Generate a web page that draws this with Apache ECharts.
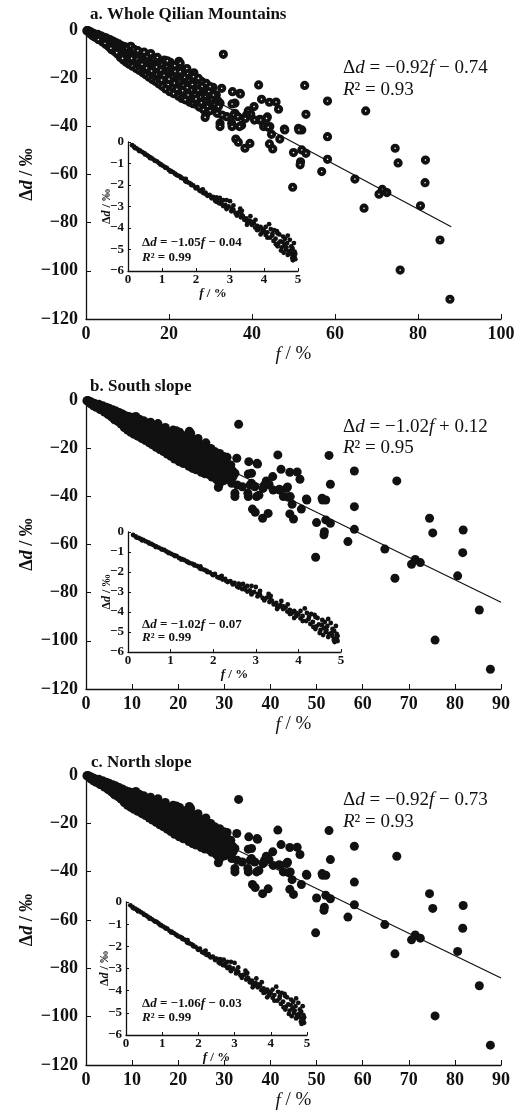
<!DOCTYPE html>
<html>
<head>
<meta charset="utf-8">
<script src="https://cdn.jsdelivr.net/npm/echarts@6/dist/echarts.min.js"></script>
<style>
html,body{margin:0;padding:0;background:#fff;}
#chart{width:521px;height:1113px;}
</style>
</head>
<body>
<div id="chart"></div>
<script>
// ---- data: [f (%), Δd (‰)] ----
const clusterPoints = [
[0.2,-0.3],[0.4,-0.2],[0.5,-0.6],[0.7,-0.5],[0.9,-1.0],[1.1,-0.8],[1.3,-1.4],[1.5,-1.2],[1.7,-1.8],[1.9,-1.5],
[2.1,-2.2],[2.3,-1.9],[2.5,-2.6],[2.7,-2.3],[2.9,-3.0],[3.1,-2.6],[3.3,-3.4],[3.5,-3.0],[3.7,-3.8],[3.9,-3.3],
[4.1,-4.2],[4.3,-3.6],[4.5,-4.7],[4.7,-4.0],[4.9,-5.1],[5.2,-4.3],[5.4,-5.8],[5.6,-4.9],[5.9,-6.4],[6.1,-5.2],
[6.3,-7.0],[6.6,-5.6],[6.8,-7.5],[7.0,-6.1],[7.3,-8.2],[7.5,-6.4],[7.7,-8.8],[8.0,-6.9],[8.2,-9.3],[8.4,-7.8],
[8.7,-10.1],[8.9,-7.4],[9.1,-10.6],[9.4,-8.3],[9.6,-11.2],[9.8,-9.0],[10.0,-12.0],[10.2,-7.2],[10.3,-9.8],[10.5,-11.5],
[10.7,-13.0],[10.9,-8.6],[11.1,-10.4],[11.3,-12.6],[11.5,-14.2],[11.8,-9.5],[12.0,-11.6],[12.2,-13.5],[12.4,-15.0],[12.6,-10.0],
[12.8,-12.3],[13.0,-14.4],[13.2,-9.6],[13.4,-16.0],[13.6,-11.8],[13.9,-13.7],[14.1,-15.5],[14.3,-10.8],[14.5,-17.0],[14.7,-12.5],
[14.9,-14.6],[15.1,-16.5],[15.3,-11.2],[15.5,-18.0],[15.7,-13.3],[15.9,-15.2],[16.1,-17.3],[16.3,-12.0],[16.5,-19.2],[16.7,-14.1],
[16.9,-16.0],[17.1,-18.4],[17.3,-13.0],[17.5,-20.3],[17.7,-15.0],[17.9,-17.1],[18.1,-19.5],[18.3,-14.2],[18.5,-21.4],[18.7,-16.0],
[18.9,-12.5],[19.1,-18.2],[19.3,-22.4],[19.5,-15.4],[19.7,-20.1],[19.9,-17.0],[20.1,-23.0],[20.3,-13.4],[20.4,-18.6],[20.6,-21.2],
[20.8,-16.5],[21.0,-24.0],[21.2,-19.8],[21.4,-14.8],[21.6,-22.3],[21.8,-17.6],[22.0,-25.1],[22.2,-20.5],[22.4,-13.0],[22.6,-23.3],
[22.8,-18.2],[23.0,-26.0],[23.2,-21.4],[23.4,-16.5],[23.6,-24.2],[23.8,-19.6],[24.0,-27.2],[24.2,-22.2],[24.5,-18.0],[24.7,-25.3],
[24.9,-20.8],[25.1,-28.0],[25.3,-23.1],[25.5,-19.3],[25.7,-26.2],[25.9,-21.5],[26.2,-29.0],[26.4,-24.3],[26.6,-20.0],[26.9,-27.3],
[27.1,-22.6],[27.4,-30.0],[27.6,-25.1],[27.9,-21.4],[28.1,-28.0],[28.4,-23.5],[28.7,-31.0],[28.9,-26.2],[29.2,-24.0],[29.5,-29.2],
[29.8,-27.0],[30.1,-32.0],[30.4,-25.5],[30.7,-29.5]
];
const clusterPoints2 = [
[1.0,-1.6],[1.6,-2.4],[2.2,-3.0],[2.8,-1.8],[3.2,-4.0],[3.6,-2.4],[4.0,-5.0],[4.4,-3.0],[4.8,-6.0],[5.0,-3.4],
[5.5,-7.0],[5.8,-4.0],[6.2,-8.2],[6.5,-4.6],[6.9,-8.9],[7.2,-5.2],[7.6,-10.0],[7.9,-5.8],[8.3,-11.4],[8.6,-6.5],
[9.0,-12.5],[9.3,-6.9],[9.7,-13.4],[9.9,-7.6],[3.0,-3.9],[4.6,-5.5],[6.0,-7.6],[7.4,-9.4],[8.8,-11.8],
[10.4,-14.2],[10.8,-6.8],[11.2,-15.0],[11.6,-8.0],[12.1,-16.0],[12.5,-8.6],[12.9,-16.8],[13.3,-12.8],[13.7,-17.8],[14.0,-9.2],
[14.4,-18.6],[14.8,-11.0],[15.2,-19.6],[15.6,-9.8],[16.0,-20.6],[16.4,-14.8],[16.8,-21.4],[17.2,-11.4],[17.6,-22.4],[18.0,-16.6],
[18.4,-23.4],[18.8,-18.8],[19.2,-24.5],[19.6,-12.8],[19.8,-22.6],[11.0,-11.8],[12.3,-12.0],[13.5,-14.2],[14.6,-15.8],[15.8,-17.0],
[17.0,-15.4],[18.2,-20.8],
[20.2,-25.6],[20.7,-19.4],[21.1,-26.4],[21.5,-17.2],[21.9,-24.6],[22.3,-27.5],[22.7,-15.4],[23.1,-28.4],[23.5,-23.0],[23.9,-29.0],
[24.3,-16.0],[24.6,-27.0],[25.0,-30.0],[25.4,-24.8],[25.8,-30.6],[26.0,-17.8],[26.3,-26.8],[26.7,-31.0],[27.0,-25.0],[27.3,-32.0],
[27.7,-27.8],[28.0,-23.4],[28.3,-33.0],[28.6,-29.4],[29.0,-22.2],[29.3,-31.8],[29.6,-25.5],[29.9,-33.5],[30.3,-28.6],[30.6,-23.8],
[31.0,-30.8],[31.4,-27.0],[31.8,-29.5],[20.0,-20.4],[21.3,-22.0],[22.5,-21.4],[23.3,-25.2],[24.4,-24.0],[25.6,-22.6],[26.5,-28.6],
[27.8,-30.2],[28.8,-27.4]
];
const scatterPoints = [
[33.1,-10.1],[41.6,-22.8],[52.7,-23.0],[58.2,-29.5],[67.4,-33.6],[53.0,-35.0],[42.3,-28.8],[44.2,-30.0],[45.8,-29.9],[46.4,-32.9],
[40.5,-31.8],[39.1,-33.6],[39.7,-35.0],[41.9,-37.1],[43.7,-36.1],[44.3,-40.1],[44.7,-43.3],[47.8,-41.1],[46.7,-45.3],[51.2,-40.8],
[52.0,-41.5],[58.2,-44.3],[44.2,-47.3],[45.0,-49.4],[50.0,-50.9],[52.0,-49.8],[53.0,-51.2],[51.7,-54.7],[58.2,-53.7],[56.8,-58.8],
[49.8,-65.3],[64.8,-61.9],[67.0,-74.0],[70.6,-68.2],[71.4,-66.2],[72.5,-67.5],[74.5,-49.1],[75.2,-55.2],[81.8,-54.0],[81.7,-63.4],
[80.6,-73.0],[85.3,-87.2],[75.7,-99.7],[87.7,-111.8],[36.1,-45.3],[36.7,-46.6],[38.3,-49.1],[39.5,-47.1],[28.9,-35.0],[32.7,-24.2],
[35.3,-25.6],[37.1,-26.3],[32.3,-30.4],[35.9,-30.4],[31.5,-33.6],[35.9,-34.6],[32.3,-38.7],[35.1,-38.7],[37.5,-39.5],[38.7,-35.3],
[33.9,-36.0],[30.7,-27.0],[29.9,-23.5],[25.9,-19.4],[27.1,-20.1],[22.7,-13.8],[22.7,-17.3],[31.9,-31.8],[31.6,-34.6],[32.8,-35.3],
[35.6,-35.3],[36.6,-36.0],[32.3,-40.1],[35.2,-40.1],[37.0,-40.1],[38.4,-36.7],[40.6,-37.4],[42.1,-37.4],[43.5,-36.7],[42.8,-40.1],
[43.9,-40.4],[47.9,-41.5],[51.3,-41.5],[51.6,-56.0],[37.2,-26.6],[35.2,-30.7],[28.7,-36.3]
];
const insetPoints = [
[0.12,-0.15],[0.18,-0.22],[0.25,-0.3],[0.3,-0.35],[0.36,-0.4],[0.42,-0.47],[0.48,-0.52],[0.55,-0.6],[0.6,-0.66],[0.66,-0.72],
[0.72,-0.78],[0.78,-0.85],[0.85,-0.9],[0.9,-0.97],[0.96,-1.03],[1.02,-1.1],[1.08,-1.16],[1.14,-1.2],[1.2,-1.3],[1.26,-1.34],
[1.32,-1.4],[1.38,-1.47],[1.44,-1.55],[1.5,-1.58],[1.56,-1.67],[1.62,-1.7],[1.68,-1.8],[1.74,-1.86],[1.8,-1.9],[1.86,-2.0],
[1.92,-2.02],[1.98,-2.12],[2.04,-2.1],[2.1,-2.26],[2.16,-2.24],[2.22,-2.38],[2.28,-2.35],[2.34,-2.5],[2.4,-2.46],[2.46,-2.62],
[2.5,-2.55],[2.56,-2.73],[2.62,-2.7],[2.68,-2.85],[2.74,-2.78],[2.8,-2.98],[2.86,-2.92],[2.9,-3.08],[2.96,-3.0],[3.0,-2.75],
[3.04,-3.22],[3.1,-3.15],[3.16,-3.3],[3.2,-3.36],[3.26,-3.28],[3.32,-3.5],[3.38,-3.45],[3.42,-3.62],[3.48,-3.55],[3.54,-3.75],
[3.58,-3.66],[3.64,-3.85],[3.7,-3.78],[3.74,-3.98],[3.8,-3.9],[3.84,-4.08],[3.9,-3.95],[3.95,-4.2],[4.0,-4.12],[4.05,-4.32],
[4.1,-4.2],[4.15,-3.82],[4.18,-4.45],[4.24,-4.35],[4.28,-4.6],[4.34,-4.5],[4.38,-4.15],[4.42,-4.72],[4.48,-4.62],[4.52,-4.9],
[4.56,-4.4],[4.6,-4.8],[4.64,-5.0],[4.68,-4.7],[4.72,-5.1],[4.76,-4.55],[4.8,-5.2],[4.84,-4.95],[4.87,-5.35],[4.9,-5.1],
[4.92,-5.45],[3.3,-3.1],[3.6,-3.45],[2.7,-2.6],[2.9,-2.7],[4.3,-4.1],[4.7,-4.35],[3.9,-4.3],[4.5,-5.05],[4.85,-5.5],
[1.7,-1.72],[2.2,-2.2],[2.6,-2.58],[3.5,-3.85],[2.8,-2.7]
];
const insetPoints2 = [
[0.2,-0.28],[0.33,-0.42],[0.5,-0.58],[0.65,-0.75],[0.8,-0.88],[0.95,-1.05],[1.1,-1.2],[1.25,-1.38],[1.4,-1.5],[1.55,-1.62],
[1.7,-1.84],[1.85,-1.95],[2.0,-2.16],[2.15,-2.3],[2.3,-2.44],[2.45,-2.55],[2.6,-2.78],[2.75,-2.88],[2.9,-3.12],[3.05,-3.1],
[3.2,-3.42],[3.35,-3.4],[3.5,-3.7],[3.65,-3.72],[3.8,-4.1],[3.95,-4.05],[4.1,-4.45],[4.25,-4.25],[4.4,-4.85],[4.55,-4.65],
[4.7,-5.25],[4.8,-4.85],[4.9,-5.3],[4.62,-4.5],[4.45,-4.3],[4.2,-4.05],[3.35,-3.2],[3.1,-2.95],[4.78,-5.05],[4.88,-4.7],
[4.58,-5.15],[4.35,-4.75],[4.05,-3.95],[3.75,-3.62],[4.66,-4.9],[4.92,-5.2],[4.83,-5.4],[4.4,-4.25]
];
// fitted lines as drawn (start and end)
const lineA = [[0,-0.74],[88,-81.7]];
const lineB = [[0,0.12],[90,-84]];
const lineC = [[0,-0.73],[90,-84]];
// axis ranges
const xMaxA = 100, xStepA = 20, xMaxBC = 90, xStepBC = 10;
const yMin = -120, yStep = 20;
const insetXMax = 5, insetYMin = -6;
// texts
const titles = ['a. Whole Qilian Mountains', 'b. South slope', 'c. North slope'];
const mainEq = [['0.92', '−', '0.74', '0.93'], ['1.02', '+', '0.12', '0.95'], ['0.92', '−', '0.73', '0.93']];
const insetEq = [['1.05', '0.04', '0.99'], ['1.02', '0.07', '0.99'], ['1.06', '0.03', '0.99']];

const SERIF = "'Liberation Serif','Times New Roman',serif";
const INK = '#111111';
const minusFmt = v => (v < 0 ? '−' + Math.abs(v) : String(v));

const grids = [
  {left: 86, top: 30, width: 415, height: 289},
  {left: 128, top: 142, width: 170, height: 129},
  {left: 86, top: 400, width: 415, height: 289},
  {left: 128, top: 532, width: 213, height: 120},
  {left: 86, top: 775, width: 415, height: 290},
  {left: 126, top: 902, width: 181, height: 133}
];

function axisName(size, bold) {
  const w = bold ? 'bold' : 'normal';
  return {
    fontFamily: SERIF, fontWeight: w, fontSize: size, color: INK,
    rich: {
      n: {fontFamily: SERIF, fontWeight: w, fontSize: size, color: INK},
      it: {fontFamily: SERIF, fontWeight: w, fontStyle: 'italic', fontSize: size, color: INK}
    }
  };
}
function xAx(gi, max, step, inset) {
  const fs = inset ? 13 : 18;
  return {
    type: 'value', gridIndex: gi, min: 0, max: max, interval: step,
    name: '{it|f}{n| / %}', nameLocation: 'middle', nameGap: inset ? 16 : 26, nameMoveOverlap: false,
    nameTextStyle: axisName(inset ? 13 : 19, inset),
    axisLine: {onZero: false, lineStyle: {color: INK, width: 1.3}},
    axisTick: {inside: true, length: inset ? 3 : 5, lineStyle: {color: INK}},
    axisLabel: {fontFamily: SERIF, fontWeight: 'bold', fontSize: fs, color: INK, margin: inset ? 2 : 6},
    splitLine: {show: false}
  };
}
function yAx(gi, min, step, inset) {
  const fs = inset ? 13 : 18;
  return {
    type: 'value', gridIndex: gi, min: min, max: 0, interval: step,
    name: '{n|Δ}{it|d}{n| / ‰}', nameLocation: 'middle', nameRotate: 90, nameGap: inset ? 15 : 50, nameMoveOverlap: false,
    nameTextStyle: axisName(inset ? 12 : 18, true),
    axisLine: {onZero: false, lineStyle: {color: INK, width: 1.3}},
    axisTick: {inside: true, length: inset ? 3 : 5, lineStyle: {color: INK}},
    axisLabel: {fontFamily: SERIF, fontWeight: 'bold', fontSize: fs, color: INK, margin: inset ? 4 : 8, formatter: minusFmt},
    splitLine: {show: false}
  };
}

const xAxis = [
  xAx(0, xMaxA, xStepA, false), xAx(1, insetXMax, 1, true),
  xAx(2, xMaxBC, xStepBC, false), xAx(3, insetXMax, 1, true),
  xAx(4, xMaxBC, xStepBC, false), xAx(5, insetXMax, 1, true)
];
const yAxis = [
  yAx(0, yMin, yStep, false), yAx(1, insetYMin, 1, true),
  yAx(2, yMin, yStep, false), yAx(3, insetYMin, 1, true),
  yAx(4, yMin, yStep, false), yAx(5, insetYMin, 1, true)
];

const mainPoints = clusterPoints.concat(clusterPoints2, scatterPoints);
const allInset = insetPoints.concat(insetPoints2);
const hollowStyle = {color: '#ffffff', borderColor: INK, borderWidth: 3.8, opacity: 1};
const solidStyle = {color: INK, opacity: 1};

function scat(ai, size, style) {
  return {type: 'scatter', xAxisIndex: ai, yAxisIndex: ai, data: ai % 2 ? allInset : mainPoints,
    symbol: 'circle', symbolSize: size, itemStyle: style, silent: true, animation: false, large: false};
}
function fit(ai, pts) {
  return {type: 'line', xAxisIndex: ai, yAxisIndex: ai, data: pts, showSymbol: false, symbol: 'none',
    lineStyle: {color: INK, width: 1.2}, silent: true, animation: false, z: 5};
}

const series = [
  fit(0, lineA), scat(0, 5.4, hollowStyle), scat(1, 4.8, solidStyle),
  fit(2, lineB), scat(2, 9, solidStyle), scat(3, 4.8, solidStyle),
  fit(4, lineC), scat(4, 9, solidStyle), scat(5, 4.8, solidStyle)
];

function richSet(size, bold) {
  const w = bold ? 'bold' : 'normal';
  return {
    n: {fontFamily: SERIF, fontSize: size, fontWeight: w, fill: INK},
    it: {fontFamily: SERIF, fontSize: size, fontWeight: w, fontStyle: 'italic', fill: INK}
  };
}
function txt(x, y, text, size, bold) {
  return {type: 'text', x: x, y: y, z: 100, silent: true,
    style: {text: text, rich: richSet(size, bold), font: (bold ? 'bold ' : '') + size + 'px ' + SERIF,
      fill: INK, align: 'left', verticalAlign: 'middle'}};
}
const titleY = [15, 387, 763], titleX = [90, 90, 91];
const eqY = [[68, 90], [427, 448], [800, 822]];
const inEqY = [[243, 258], [625, 638], [1004, 1018]];
const graphic = [];
for (let i = 0; i < 3; i++) {
  graphic.push(txt(titleX[i], titleY[i], '{n|' + titles[i] + '}', 17, true));
  const e = mainEq[i];
  graphic.push(txt(343, eqY[i][0], '{n|Δ}{it|d}{n| = −' + e[0] + '}{it|f}{n| ' + e[1] + ' ' + e[2] + '}', 19, false));
  graphic.push(txt(343, eqY[i][1], '{it|R}{n|² = ' + e[3] + '}', 19, false));
  const q = insetEq[i];
  graphic.push(txt(142, inEqY[i][0], '{n|Δ}{it|d}{n| = −' + q[0] + '}{it|f}{n| − ' + q[1] + '}', 13, true));
  graphic.push(txt(142, inEqY[i][1], '{it|R}{n|² = ' + q[2] + '}', 13, true));
}

const chart = echarts.init(document.getElementById('chart'), null, {renderer: 'canvas', width: 521, height: 1113});
chart.setOption({
  animation: false,
  backgroundColor: '#ffffff',
  grid: grids,
  xAxis: xAxis,
  yAxis: yAxis,
  series: series,
  graphic: graphic
});
</script>
</body>
</html>
